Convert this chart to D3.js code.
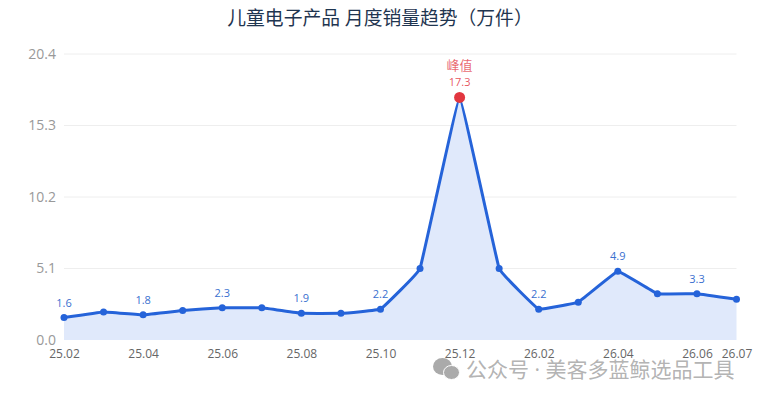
<!DOCTYPE html>
<html lang="zh">
<head>
<meta charset="UTF-8">
<title>儿童电子产品 月度销量趋势</title>
<script src="https://d3js.org/d3.v7.min.js"></script>
<style>
  html, body { margin: 0; padding: 0; background: #fff; }
  svg { display: block; }
  text { font-family: "Open Sans", "Noto Sans CJK SC", sans-serif; }
</style>
</head>
<body>
<script>
var width = 760, height = 400;

var months = ["25.02","25.03","25.04","25.05","25.06","25.07","25.08","25.09","25.10","25.11","25.12","26.01","26.02","26.03","26.04","26.05","26.06","26.07"];
var sales = [1.6,2.0,1.8,2.1,2.3,2.3,1.9,1.9,2.2,5.1,17.3,5.1,2.2,2.7,4.9,3.3,3.3,2.9];
var xLabels = ["25.02","25.04","25.06","25.08","25.10","25.12","26.02","26.04","26.06","26.07"];
var yTicks = [0, 5.1, 10.2, 15.3, 20.4];
var labelled = ["25.02","25.04","25.06","25.08","25.10","26.02","26.04","26.06"];
var peakMonth = "25.12";

var blue = "#2563d9", labelBlue = "#3a70cf", red = "#e2363f";

var svg = d3.select("body").append("svg").attr("width", width).attr("height", height);

var x = d3.scalePoint().domain(months).range([64, 736.5]);
var y = d3.scaleLinear().domain([0, 20.4]).range([340, 54]);

svg.append("text").attr("x", 380).attr("y", 24.5).attr("text-anchor", "middle")
  .attr("font-size", 18.8).attr("fill", "#1f3550").text("儿童电子产品 月度销量趋势（万件）");

// grid
svg.selectAll(".grid").data(yTicks.slice(1)).enter().append("line")
  .attr("class", "grid")
  .attr("x1", x.range()[0]).attr("x2", x.range()[1])
  .attr("y1", function(d) { return y(d); }).attr("y2", function(d) { return y(d); })
  .attr("stroke", "#eeeeee").attr("stroke-width", 1);

// y axis
var yAxis = d3.axisLeft(y).tickValues(yTicks).tickSize(0).tickPadding(8)
  .tickFormat(function(d) { return d.toFixed(1); });
var yG = svg.append("g").attr("transform", "translate(64,0)").call(yAxis);
yG.select(".domain").remove();
yG.selectAll("text").attr("font-size", 14).attr("fill", "#999999")
  .style("font-family", '"Open Sans", sans-serif');

// x axis
var xAxis = d3.axisBottom(x).tickValues(xLabels).tickSize(0).tickPadding(9);
var xG = svg.append("g").attr("transform", "translate(0,340)").call(xAxis);
xG.select(".domain").remove();
xG.selectAll("text").attr("font-size", 12).attr("fill", "#666666")
  .style("font-family", '"Open Sans", sans-serif');

// area and line
var curve = d3.curveCardinal.tension(0.85);
var area = d3.area().curve(curve)
  .x(function(d, i) { return x(months[i]); })
  .y0(y(0)).y1(function(d) { return y(d); });
var line = d3.line().curve(curve)
  .x(function(d, i) { return x(months[i]); })
  .y(function(d) { return y(d); });

svg.append("path").datum(sales).attr("d", area).attr("fill", "#e0e9fb");
svg.append("path").datum(sales).attr("d", line).attr("fill", "none")
  .attr("stroke", blue).attr("stroke-width", 3);

// points
svg.selectAll(".pt").data(sales).enter().append("circle")
  .attr("class", "pt")
  .attr("cx", function(d, i) { return x(months[i]); })
  .attr("cy", function(d) { return y(d); })
  .attr("r", function(d, i) { return months[i] === peakMonth ? 5.5 : 3.5; })
  .attr("fill", function(d, i) { return months[i] === peakMonth ? red : blue; });

// value labels
svg.selectAll(".val").data(labelled).enter().append("text")
  .attr("class", "val")
  .attr("x", function(m) { return x(m); })
  .attr("y", function(m) { return y(sales[months.indexOf(m)]) - 11; })
  .attr("text-anchor", "middle").attr("font-size", 11).attr("fill", labelBlue)
  .text(function(m) { return sales[months.indexOf(m)].toFixed(1); });

var px = x(peakMonth), py = y(sales[months.indexOf(peakMonth)]);
svg.append("text").attr("x", px).attr("y", py - 11).attr("text-anchor", "middle")
  .attr("font-size", 11).attr("fill", red).attr("fill-opacity", 0.85).text("17.3");
svg.append("text").attr("x", px).attr("y", py - 27).attr("text-anchor", "middle")
  .attr("font-size", 13).attr("fill", red).attr("fill-opacity", 0.75).text("峰值");

// watermark
var wm = svg.append("g").attr("fill", "#aaaaaa");
wm.append("ellipse").attr("cx", 442.5).attr("cy", 366.5).attr("rx", 9.5).attr("ry", 8.5);
wm.append("ellipse").attr("cx", 451.5).attr("cy", 372.5).attr("rx", 8).attr("ry", 7)
  .attr("stroke", "#fff").attr("stroke-width", 1);
svg.append("text").attr("x", 466).attr("y", 377).attr("font-size", 21).attr("fill", "#aaaaaa")
  .attr("fill-opacity", 0.9).text("公众号 · 美客多蓝鲸选品工具");
</script>
</body>
</html>
